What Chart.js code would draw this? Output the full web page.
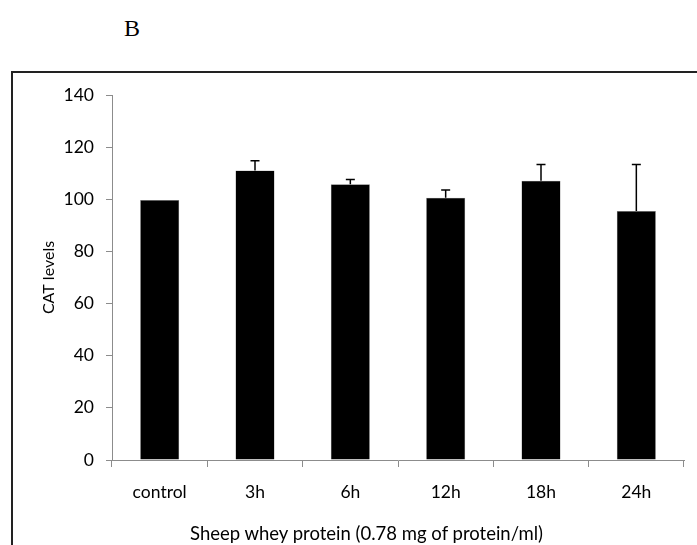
<!DOCTYPE html>
<html>
<head>
<meta charset="utf-8">
<script src="https://cdn.jsdelivr.net/npm/chart.js@4"></script>
<style>
  body { margin: 0; background: #fff; }
  #wrap { position: relative; width: 697px; height: 545px; overflow: hidden; }
  #panel { position: absolute; left: 124px; top: 15px; font-family: "Liberation Serif", serif; font-size: 24px; color: #000; }
  #frame { position: absolute; left: 11px; top: 71px; width: 700px; height: 500px; border-left: 2px solid #222; border-top: 2px solid #222; }
  #xtitle { position: absolute; left: 190px; top: 524px; font-family: Lato, "Open Sans", sans-serif; font-size: 18.5px; line-height: 1; color: #000; white-space: nowrap; }
  canvas { position: absolute; left: 0; top: 0; }
</style>
</head>
<body>
<div id="wrap">
  <div id="panel">B</div>
  <div id="frame"></div>
  <canvas id="chart" width="697" height="545"></canvas>
  <div id="xtitle">Sheep whey protein (0.78 mg of protein/ml)</div>
</div>
<script>
const categories = ['control', '3h', '6h', '12h', '18h', '24h'];
const catLevels = [99.7, 111, 105.8, 100.6, 107.1, 95.5];
const errors = [0, 3.8, 1.8, 3, 6.2, 17.8];
const yTicks = [0, 20, 40, 60, 80, 100, 120, 140];

const axisGray = '#8c8c8c';
const fontFamily = 'Lato, "Open Sans", sans-serif';

// upward error bars, drawn from the data through the y scale
const errorBars = {
    id: 'errorBars',
    afterDatasetsDraw(chart) {
        const ctx = chart.ctx;
        const y = chart.scales.y;
        const meta = chart.getDatasetMeta(0);
        ctx.save();
        ctx.strokeStyle = '#000';
        ctx.lineWidth = 1.5;
        meta.data.forEach((bar, i) => {
            if (!errors[i]) return;
            const top = y.getPixelForValue(catLevels[i] + errors[i]);
            const base = y.getPixelForValue(catLevels[i]);
            ctx.beginPath();
            ctx.moveTo(bar.x, base);
            ctx.lineTo(bar.x, top);
            ctx.moveTo(bar.x - 4.5, top);
            ctx.lineTo(bar.x + 4.5, top);
            ctx.stroke();
        });
        ctx.restore();
    }
};

new Chart(document.getElementById('chart').getContext('2d'), {
    type: 'bar',
    data: {
        labels: categories,
        datasets: [{
            data: catLevels,
            backgroundColor: '#000',
            borderColor: '#888',
            borderWidth: 0.5,
            categoryPercentage: 0.41,
            barPercentage: 1
        }]
    },
    options: {
        responsive: false,
        animation: false,
        events: [],
        layout: { padding: { left: 0, top: 95, right: 13, bottom: 0 } },
        plugins: {
            legend: { display: false },
            tooltip: { enabled: false }
        },
        scales: {
            x: {
                offset: true,
                afterFit: s => { s.height = 85; },
                grid: { offset: true, drawOnChartArea: false, color: axisGray, tickLength: 7 },
                border: { color: axisGray, width: 1 },
                ticks: { color: '#000', font: { family: fontFamily, size: 17.5 }, padding: 15 }
            },
            y: {
                min: 0,
                max: 140,
                afterFit: s => { s.width = 112; },
                afterBuildTicks: s => { s.ticks = yTicks.map(v => ({ value: v })); },
                grid: { drawOnChartArea: false, color: axisGray, tickLength: 6 },
                border: { color: axisGray, width: 1 },
                ticks: { color: '#000', font: { family: fontFamily, size: 17.5 }, padding: 12 },
                title: {
                    display: true,
                    text: 'CAT levels',
                    color: '#000',
                    font: { family: fontFamily, size: 16 },
                    padding: { top: 39, bottom: 0 }
                }
            }
        }
    },
    plugins: [errorBars]
});
</script>
</body>
</html>
